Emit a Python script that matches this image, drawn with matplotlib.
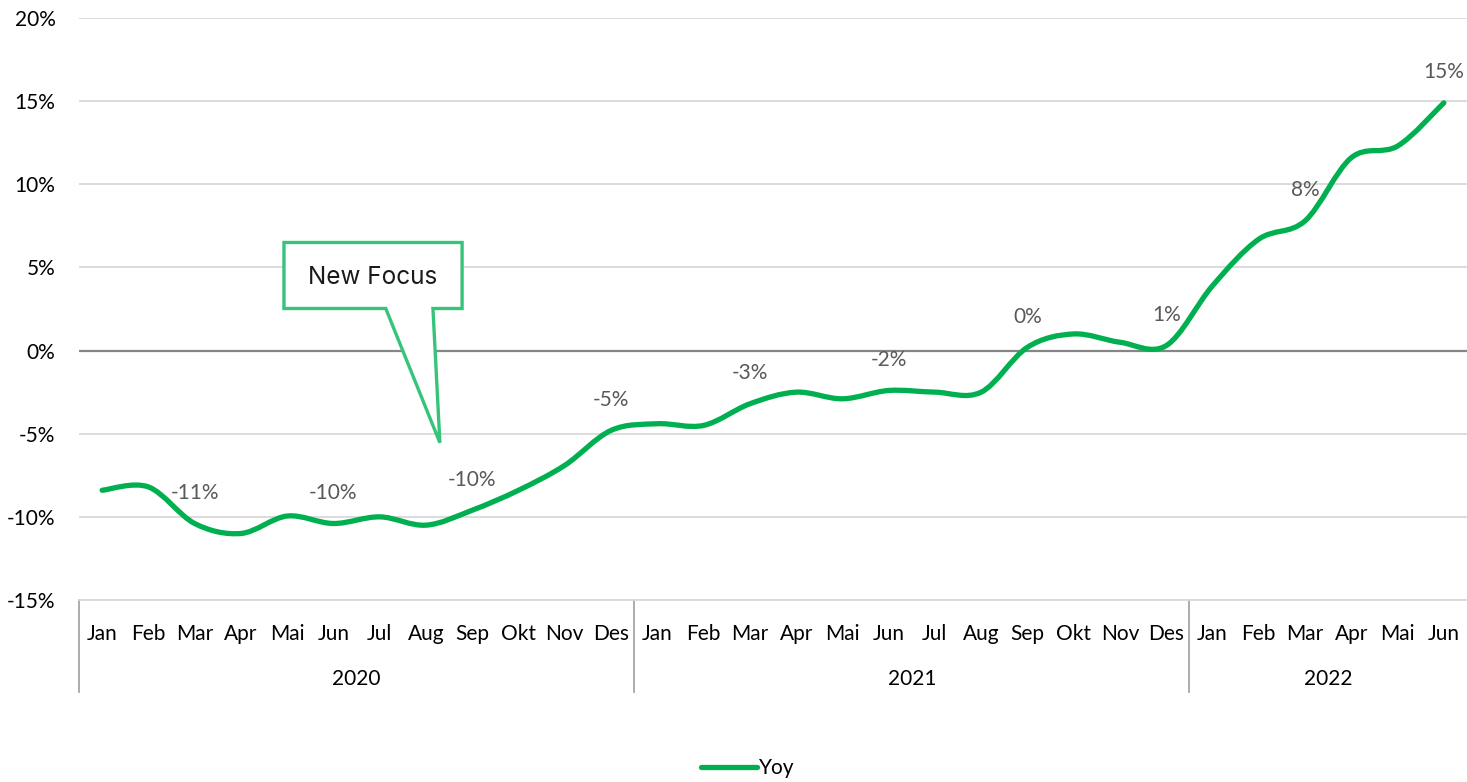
import numpy as np
import matplotlib.pyplot as plt
from matplotlib.path import Path
from matplotlib.patches import PathPatch, Polygon
from matplotlib.transforms import blended_transform_factory

plt.rcParams['font.family'] = ['Lato', 'DejaVu Sans']

# data (YoY growth, %)
months = ['Jan', 'Feb', 'Mar', 'Apr', 'Mai', 'Jun', 'Jul', 'Aug', 'Sep', 'Okt', 'Nov', 'Des',
          'Jan', 'Feb', 'Mar', 'Apr', 'Mai', 'Jun', 'Jul', 'Aug', 'Sep', 'Okt', 'Nov', 'Des',
          'Jan', 'Feb', 'Mar', 'Apr', 'Mai', 'Jun']
years = ['2020', '2021', '2022']
year_len = [12, 12, 6]
yoy = [-8.4, -8.2, -10.4, -11.0, -9.95, -10.4, -10.0, -10.5, -9.6, -8.4, -6.9, -4.8,
       -4.4, -4.5, -3.2, -2.5, -2.9, -2.4, -2.5, -2.5, 0.2, 1.0, 0.5, 0.3,
       3.9, 6.7, 7.8, 11.6, 12.3, 14.9]
label_idx = [2, 5, 8, 11, 14, 17, 20, 23, 26, 29]
label_txt = ['-11%', '-10%', '-10%', '-5%', '-3%', '-2%', '0%', '1%', '8%', '15%']

GREEN = '#00b050'
CALLOUT = '#35c47a'
GRID = '#d9d9d9'


def smooth_path(xs, ys, t=1.0 / 6):
    # Excel-style smoothed line: cubic bezier with catmull-rom tangents
    pts = np.column_stack([xs, ys]).astype(float)
    verts = [pts[0]]
    codes = [Path.MOVETO]
    n = len(pts)
    for i in range(n - 1):
        p0 = pts[max(i - 1, 0)]
        p1 = pts[i]
        p2 = pts[i + 1]
        p3 = pts[min(i + 2, n - 1)]
        c1 = p1 + (p2 - p0) * t
        c2 = p2 - (p3 - p1) * t
        verts += [c1, c2, p2]
        codes += [Path.CURVE4] * 3
    return Path(verts, codes)


fig = plt.figure(figsize=(14.67, 7.82), dpi=100)
ax = fig.add_axes([79 / 1467, 182 / 782, 1388 / 1467, 582 / 782])

x = np.arange(len(yoy))
ax.set_xlim(-0.5, len(yoy) - 0.5)
ax.set_ylim(-15, 20)

ax.set_yticks(np.arange(-15, 21, 5))
ax.set_yticklabels([f'{v}%' for v in range(-15, 21, 5)])
ax.yaxis.grid(True, color=GRID, lw=1.3, zorder=0)
ax.axhline(0, color='#868686', lw=1.6, zorder=2)
for s in ['top', 'right', 'left']:
    ax.spines[s].set_visible(False)
ax.spines['bottom'].set_color(GRID)
ax.spines['bottom'].set_linewidth(1.3)

ax.set_xticks(x)
ax.set_xticklabels(months)
ax.tick_params(axis='x', length=0, pad=17, labelsize=15, labelcolor='#000000')
ax.tick_params(axis='y', length=0, pad=17, labelsize=15, labelcolor='#000000')

# year groups below month labels
trans = blended_transform_factory(ax.transData, ax.transAxes)
start = 0
seps = [start]
for yr, ln in zip(years, year_len):
    ax.text(start + (ln - 1) / 2, -0.135, yr, transform=trans, ha='center', va='center',
            fontsize=15, color='#000000')
    start += ln
    seps.append(start)
for s in seps[:-1]:
    ax.plot([s - 0.5, s - 0.5], [0, -0.158], transform=trans, color='#a6a6a6', lw=1.3,
            clip_on=False)

# smoothed line
line = PathPatch(smooth_path(x, yoy), facecolor='none', edgecolor=GREEN, lw=3.8,
                 capstyle='round', joinstyle='round', zorder=3)
ax.add_patch(line)
ax.plot([], [], color=GREEN, lw=3.8, solid_capstyle='round', label='Yoy')

for i, t in zip(label_idx, label_txt):
    ax.annotate(t, (x[i], yoy[i]), xytext=(0, 22), textcoords='offset points',
                ha='center', va='center', fontsize=15, color='#595959', zorder=4)

# "New Focus" callout
callout = [(3.93, 6.5), (7.78, 6.5), (7.78, 2.53), (7.15, 2.53), (7.30, -5.54),
           (6.13, 2.53), (3.93, 2.53)]
ax.add_patch(Polygon(callout, closed=True, facecolor='white', edgecolor=CALLOUT,
                     lw=2.4, joinstyle='miter', zorder=5))
ax.text(5.85, 4.4, 'New Focus', ha='center', va='center', fontsize=17.5,
        family=['Inter', 'DejaVu Sans'], color='#1a1a1a', zorder=6)

fig.legend(loc='center', bbox_to_anchor=(748 / 1467, 1 - 768 / 782), frameon=False,
           fontsize=15, handlelength=2.7, handletextpad=0.1)

fig.savefig('out.png', dpi=100)
